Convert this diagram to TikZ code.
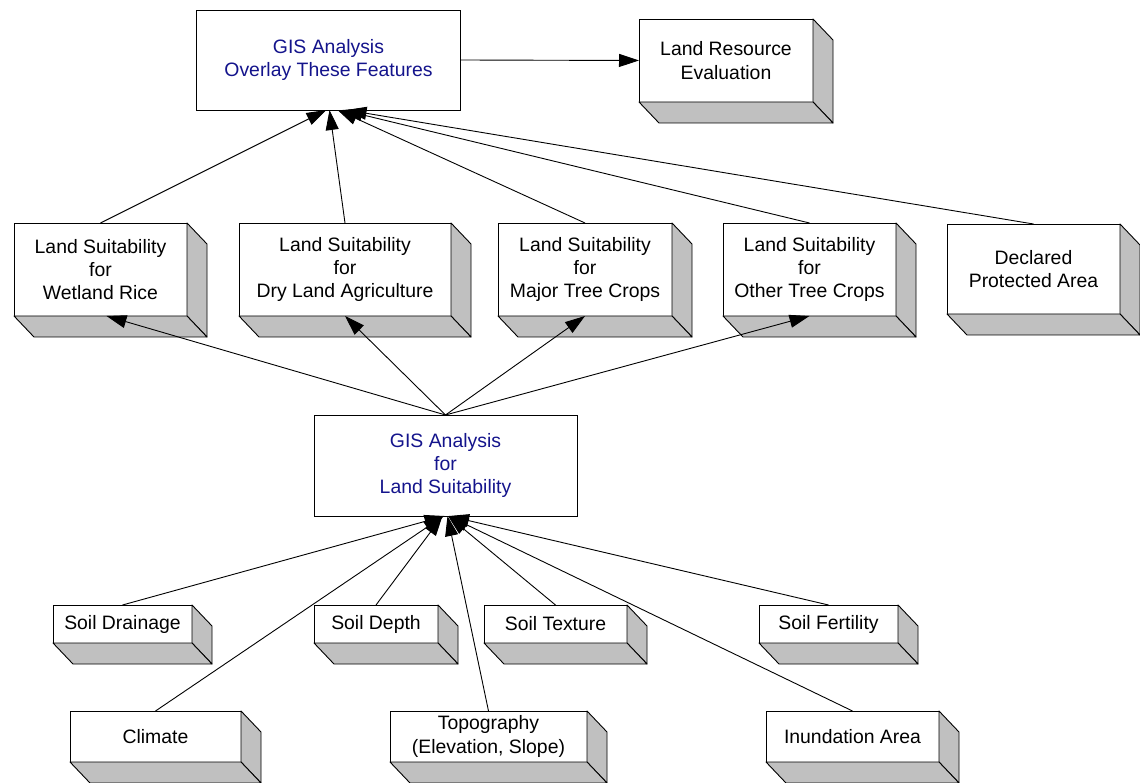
\documentclass[tikz,border=0pt]{standalone}
\usepackage{fontspec}
\setmainfont{Liberation Sans}
\usetikzlibrary{arrows.meta,calc}
\definecolor{facegray}{RGB}{192,192,192}
\definecolor{gisblue}{RGB}{20,20,140}
\newcommand\solidify[1]{%
  \draw[face] (#1.north east) -- ++(20,21) -- ($(#1.south east)+(20,21)$) -- (#1.south east) -- cycle;
  \draw[face] (#1.south west) -- (#1.south east) -- ++(20,21) -- ($(#1.south west)+(20,21)$) -- cycle;
}
\begin{document}
\begin{tikzpicture}[x=1pt,y=-1pt,
  every node/.style={font=\fontsize{19.4}{23.3}\selectfont},
  cardbox/.style={draw, line width=0.9pt, fill=white, inner sep=0pt, outer sep=0pt,
    align=center, anchor=north west},
  gisbox/.style={cardbox, text=gisblue},
  face/.style={draw, fill=facegray, line width=0.9pt, line join=round},
  link/.style={line width=0.9pt, -{Triangle[length=20pt,width=13pt]}}
]
\useasboundingbox[fill=white] (0,0) rectangle (1140,783);

% top row
\node[gisbox, minimum width=264pt, minimum height=100pt] (gisA) at (196.5,10) {GIS Analysis\\Overlay These Features};
\node[cardbox, minimum width=174pt, minimum height=83pt] (lre) at (639,19) {Land Resource\\Evaluation};
\solidify{lre}

% second row
\node[cardbox, minimum width=173pt, minimum height=93pt] (wet) at (14,223) {Land Suitability\\for\\Wetland Rice};
\node[cardbox, minimum width=212pt, minimum height=93pt] (dry) at (239,223) {Land Suitability\\for\\Dry Land Agriculture};
\node[cardbox, minimum width=174pt, minimum height=93pt] (major) at (498,223) {Land Suitability\\for\\Major Tree Crops};
\node[cardbox, minimum width=173pt, minimum height=93pt] (other) at (723,223) {Land Suitability\\for\\Other Tree Crops};
\node[cardbox, minimum width=173pt, minimum height=90pt] (decl) at (947,224) {Declared\\Protected Area};
\foreach \n in {wet,dry,major,other,decl} {\solidify{\n}}

% middle analysis box
\node[gisbox, minimum width=263pt, minimum height=101pt] (gisB) at (314,415) {GIS Analysis\\for\\Land Suitability};

% third row
\node[cardbox, minimum width=139pt, minimum height=38pt] (drain) at (53,605) {Soil Drainage};
\node[cardbox, minimum width=124pt, minimum height=38pt] (depth) at (314,605) {Soil Depth};
\node[cardbox, minimum width=143pt, minimum height=38pt] (texture) at (484,605) {Soil Texture};
\node[cardbox, minimum width=139pt, minimum height=38pt] (fert) at (759,605) {Soil Fertility};

% fourth row
\node[cardbox, minimum width=171pt, minimum height=51pt] (climate) at (70,711) {Climate};
\node[cardbox, minimum width=197pt, minimum height=51pt] (topo) at (390,711) {Topography\\(Elevation, Slope)};
\node[cardbox, minimum width=173pt, minimum height=51pt] (inund) at (766,711) {Inundation Area};
\foreach \n in {drain,depth,texture,fert,climate,topo,inund} {\solidify{\n}}

% connectors: top
\draw[link] (gisA.east) -- (lre.west);
\draw[link] (wet.north) -- ($(gisA.south)+(-2,0)$);
\draw[link] (dry.north) -- ($(gisA.south)+(1,0)$);
\draw[link] (major.north) -- ($(gisA.south)+(9,0)$);
\draw[link] (other.north) -- ($(gisA.south)+(14,0)$);
\draw[link] (decl.north) -- ($(gisA.south)+(18,0)$);

% connectors: middle
\draw[link] (gisB.north) -- ($(wet.south)+(6,0)$);
\draw[link] (gisB.north) -- (dry.south);
\draw[link] (gisB.north) -- (major.south);
\draw[link] (gisB.north) -- (other.south);

% connectors: bottom
\draw[link] (drain.north) -- ($(gisB.south)+(-1,0)$);
\draw[link] (climate.north) -- ($(gisB.south)+(-2,0)$);
\draw[link] (depth.north) -- ($(gisB.south)+(-3,0)$);
\draw[link] (topo.north) -- ($(gisB.south)+(2,0)$);
\draw[link] (texture.north) -- ($(gisB.south)+(2.5,0)$);
\draw[link] (inund.north) -- ($(gisB.south)+(3,0)$);
\draw[link] (fert.north) -- ($(gisB.south)+(3.5,0)$);
\end{tikzpicture}
\end{document}
